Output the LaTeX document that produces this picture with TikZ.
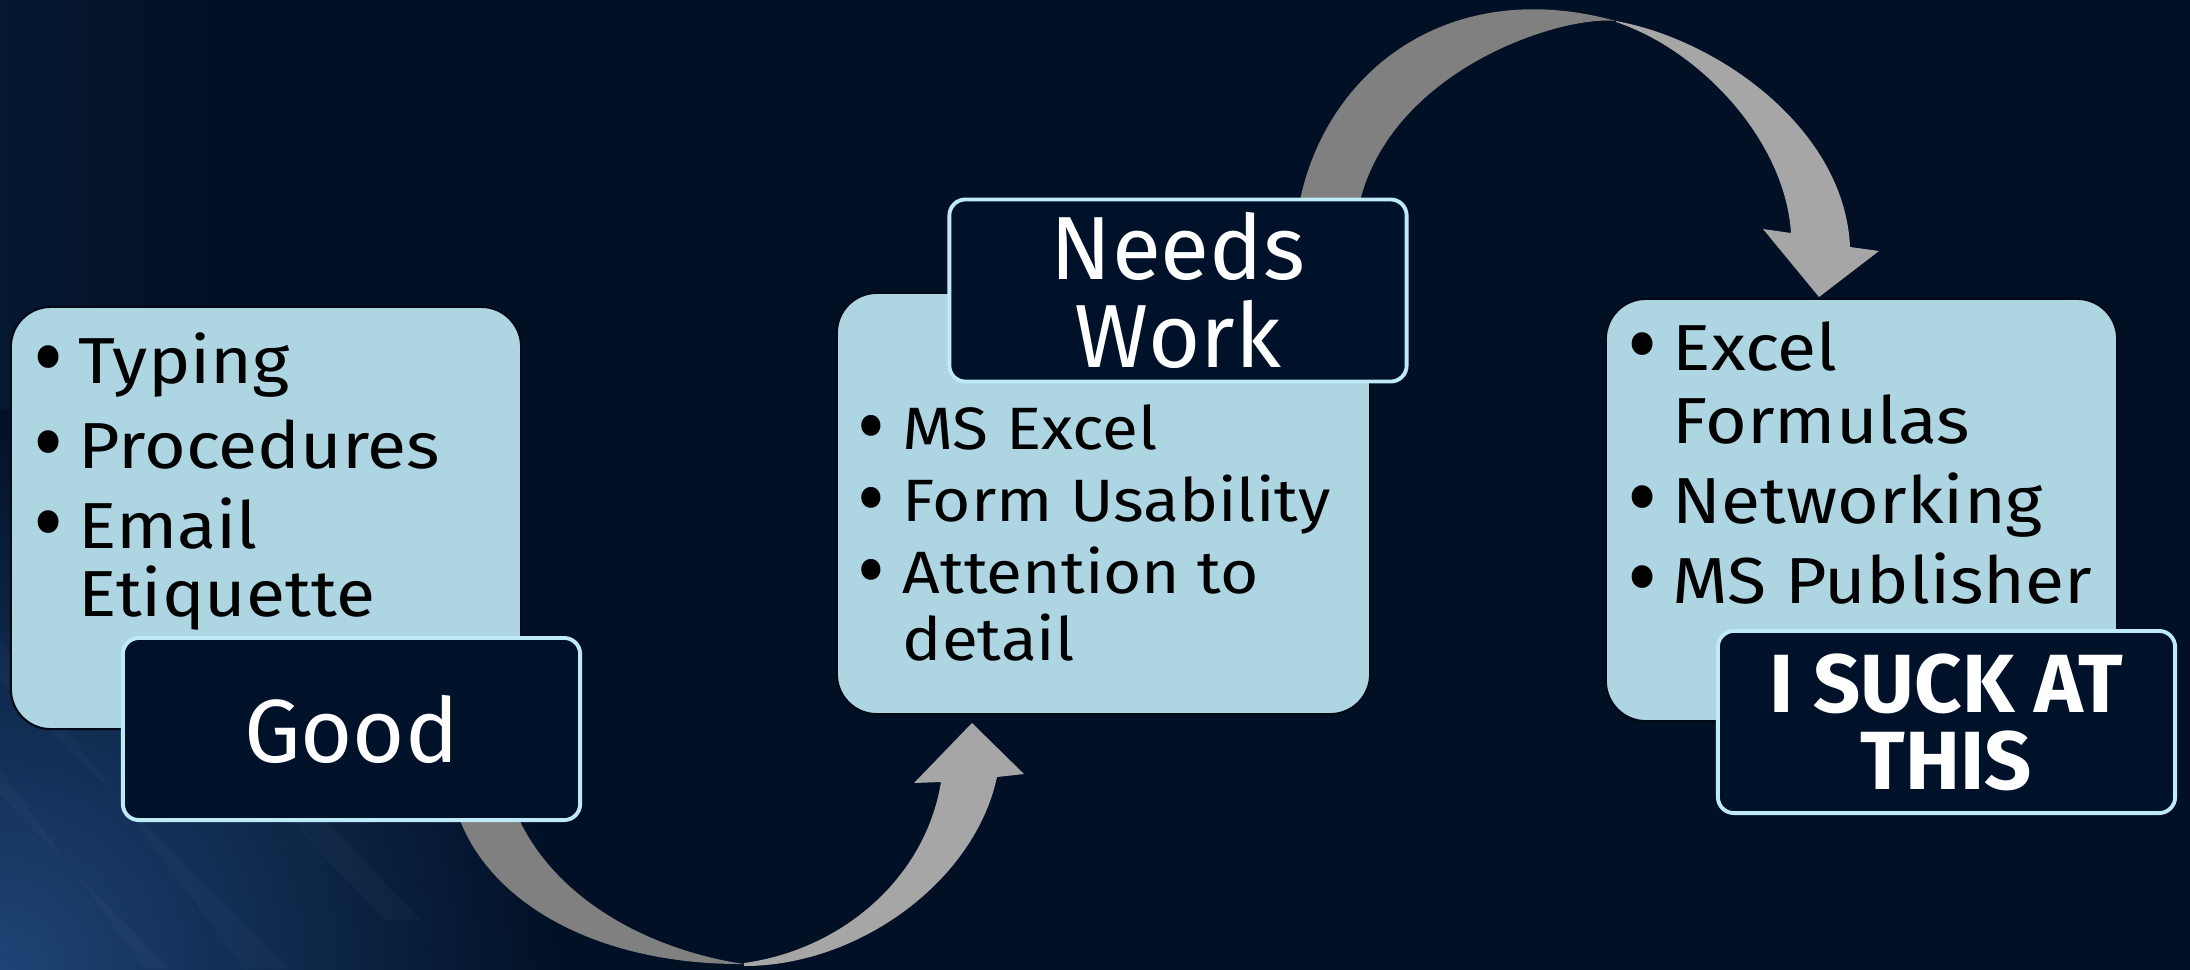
\documentclass[tikz,border=0pt]{standalone}
\usepackage{fontspec}
\setmainfont{Fira Sans}
\newfontfamily\listfont[FakeStretch=1.1]{Fira Sans}
\usetikzlibrary{positioning, calc, fadings}

\definecolor{bgnavy}{RGB}{1, 16, 37}
\definecolor{tagnavy}{RGB}{0, 18, 41}
\definecolor{cardblue}{RGB}{174, 213, 226}
\definecolor{edgecyan}{RGB}{190, 233, 247}
\definecolor{ribbonback}{RGB}{128, 128, 128}
\definecolor{ribbonfront}{RGB}{166, 166, 166}
\definecolor{glowblue}{RGB}{30, 68, 118}

\newcommand{\bul}{\makebox[0.45cm][l]{\raisebox{-0.075cm}{\scalebox{1.3}[1.55]{•}}}}
\newcommand{\hang}{\hspace*{0.45cm}}

\begin{document}
\begin{tikzpicture}[
    x=0.01cm, y=-0.01cm,
    card/.style={rectangle, rounded corners=0.4cm, fill=cardblue, draw=bgnavy!60!black, line width=0.6pt},
    tag/.style={rectangle, rounded corners=0.16cm, fill=tagnavy, draw=edgecyan, line width=1.1pt,
        minimum width=4.57cm, minimum height=1.82cm, align=center, text=white,
        font=\fontsize{25.5}{25}\selectfont},
    itemlist/.style={anchor=north west, align=left, inner sep=0pt, text=black,
        font=\listfont\fontsize{18.5}{19.35}\selectfont},
    back/.style={fill=ribbonback},
    front/.style={fill=ribbonfront},
    streak/.style={white, opacity=0.025}
]
    \useasboundingbox (0,0) rectangle (2190,969);
    \fill[bgnavy] (-10,-10) rectangle (2200,980);

    % glow in the lower left corner
    \begin{scope}
        \clip (0,0) rectangle (2190,969);
        \shade[left color=glowblue!15!bgnavy, right color=bgnavy] (0,0) rectangle (220,969);
        \shade[inner color=glowblue, outer color=bgnavy] (0,969) circle (560);
        \fill[streak] (0,640) -- (0,680) -- (290,969) -- (245,969) -- cycle;
        \fill[streak] (0,770) -- (0,795) -- (170,969) -- (145,969) -- cycle;
        \fill[streak] (40,560) -- (80,560) -- (420,920) -- (385,920) -- cycle;
    \end{scope}

    % curved arrow Good -> Needs Work
    \fill[back] (458,815) .. controls (490,905) and (600,965) .. (744,964)
        .. controls (650,950) and (555,900) .. (517,815) -- cycle;
    \fill[front] (744,966) .. controls (860,966) and (975,880) .. (997,777)
        -- (1024,774) -- (972,723) -- (914,783) -- (941,782)
        .. controls (925,880) and (840,950) .. (744,963) -- cycle;

    % curved arrow Needs Work -> I SUCK AT THIS
    \fill[back] (1299,205) .. controls (1325,70) and (1450,-25) .. (1616,21)
        .. controls (1560,15) and (1390,70) .. (1359,205) -- cycle;
    \fill[front] (1616,21) .. controls (1720,40) and (1845,130) .. (1850,247)
        -- (1879,251) -- (1819,297) -- (1763,229) -- (1791,233)
        .. controls (1785,140) and (1700,50) .. (1616,22) -- cycle;

    \node[card, minimum width=5.10cm, minimum height=4.22cm] (goodcard) at (266,518) {};
    \node[card, minimum width=5.33cm, minimum height=4.21cm] (workcard) at (1103.5,503.5) {};
    \node[card, minimum width=5.11cm, minimum height=4.22cm] (suckcard) at (1861.5,510) {};

    \node[itemlist] (goodlist) at (33,332.4) {\strut\bul Typing\\[0.12cm]
        \bul Procedures\\[0.12cm]
        \bul Email\\
        \hang Etiquette};
    \node[itemlist, font=\listfont\fontsize{17}{19.06}\selectfont] (worklist) at (857,402) {\strut\bul MS Excel\\[0.05cm]
        \bul Form Usability\\[0.05cm]
        \bul Attention to\\
        \hang detail};
    \node[itemlist] (sucklist) at (1627,321.4) {\strut\bul Excel\\
        \hang Formulas\\[0.12cm]
        \bul Networking\\[0.12cm]
        \bul MS Publisher};

    \node[tag] (good) at (351.5,729) {Good};
    \node[tag] (needswork) at (1178,290.5) {Needs\\Work};
    \node[tag, font=\fontsize{23.5}{21.9}\selectfont\bfseries] (suck) at (1946.5,722) {I SUCK AT\\THIS};
\end{tikzpicture}
\end{document}
